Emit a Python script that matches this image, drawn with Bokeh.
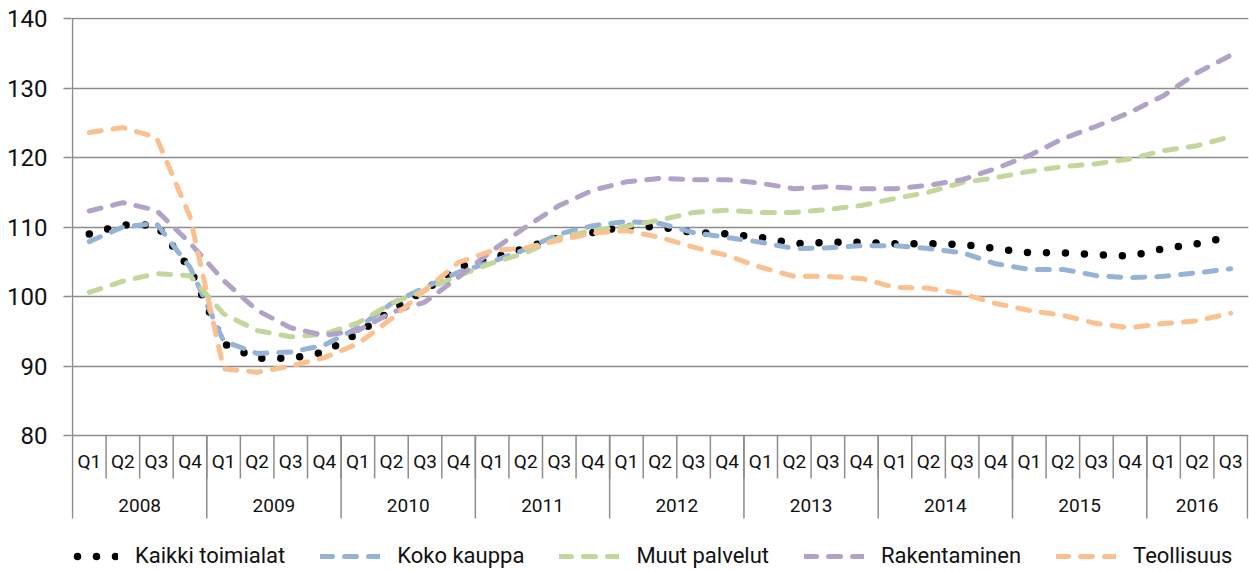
from bokeh.plotting import figure
from bokeh.models import Range1d, FixedTicker, Legend, LegendItem
from bokeh.embed import file_html
from bokeh.resources import INLINE
from bokeh.core.properties import value

# ---------------- data ----------------
years = ["2008", "2009", "2010", "2011", "2012", "2013", "2014", "2015", "2016"]
quarters = ["Q1", "Q2", "Q3", "Q4"]
quarters_last_year = 3  # 2016 has Q1..Q3

kaikki_toimialat = [109.0, 110.3, 110.3, 104.0,
                    93.2, 91.1, 91.1, 92.0,
                    94.7, 98.0, 100.9, 104.2,
                    105.5, 107.0, 108.5, 109.2,
                    110.1, 110.0, 109.2, 109.0,
                    108.5, 107.6, 107.8, 107.8,
                    107.6, 107.6, 107.5, 106.9,
                    106.3, 106.3, 106.0, 105.8,
                    106.9, 107.6, 108.6]
koko_kauppa = [107.9, 110.0, 110.5, 104.2,
               93.6, 91.8, 92.0, 93.0,
               95.5, 99.0, 101.3, 103.5,
               105.0, 106.8, 109.0, 110.2,
               110.8, 110.5, 109.2, 108.5,
               107.8, 106.9, 107.0, 107.3,
               107.3, 106.9, 106.3, 104.7,
               103.9, 103.9, 103.0, 102.7,
               102.9, 103.4, 104.0]
muut_palvelut = [100.6, 102.2, 103.3, 103.0,
                 97.5, 95.1, 94.2, 94.6,
                 96.2, 99.0, 100.9, 103.0,
                 104.8, 106.3, 108.5, 109.5,
                 110.1, 111.0, 112.1, 112.4,
                 112.1, 112.1, 112.5, 113.1,
                 114.1, 115.0, 116.4, 117.1,
                 118.0, 118.7, 119.1, 119.8,
                 121.0, 121.7, 123.0]
rakentaminen = [112.3, 113.5, 112.4, 107.7,
                102.3, 98.0, 95.5, 94.4,
                95.1, 97.7, 99.2, 102.8,
                106.6, 110.0, 113.1, 115.3,
                116.5, 117.0, 116.8, 116.8,
                116.3, 115.5, 115.8, 115.5,
                115.5, 116.0, 116.8, 118.4,
                120.3, 122.7, 124.5, 126.5,
                128.9, 132.2, 134.7]
teollisuus = [123.6, 124.3, 122.9, 111.5,
              89.6, 89.1, 90.0, 91.2,
              93.2, 96.8, 100.9, 104.9,
              106.6, 107.0, 108.1, 109.1,
              109.5, 108.5, 107.1, 105.9,
              104.2, 102.9, 102.9, 102.6,
              101.3, 101.2, 100.4, 99.0,
              98.0, 97.3, 96.1, 95.5,
              96.1, 96.5, 97.6]

series_names = ["Kaikki toimialat", "Koko kauppa", "Muut palvelut", "Rakentaminen", "Teollisuus"]
y_ticks = [80, 90, 100, 110, 120, 130, 140]

# ---------------- derived structure ----------------
quarter_labels = []
year_spans = []
idx = 0
for k, yr in enumerate(years):
    nq = len(quarters) if k < len(years) - 1 else quarters_last_year
    year_spans.append((yr, idx, idx + nq))
    for q in quarters[:nq]:
        quarter_labels.append(q)
        idx += 1
n = len(quarter_labels)
xc = [i + 0.5 for i in range(n)]

# ---------------- styling ----------------
GRAY = "#8c8c8c"
FONT = "Roboto"
PX_PER_UNIT = 6.95
W, H = 1249, 571
TOP = 17
y_end = 140 + 1.0 / PX_PER_UNIT
y_start = y_end - (H - TOP) / PX_PER_UNIT

q_sep_bottom = 80 - 43 / PX_PER_UNIT
y_sep_bottom = 80 - 83 / PX_PER_UNIT
q_label_y = 80 - 26 / PX_PER_UNIT
yr_label_y = 80 - 70 / PX_PER_UNIT

p = figure(width=W, height=H, output_backend="svg", toolbar_location=None,
           x_range=Range1d(-0.03, n + 0.03), y_range=Range1d(y_start, y_end),
           x_axis_location=None,
           min_border_left=71, min_border_right=1, min_border_top=TOP, min_border_bottom=0)
p.outline_line_color = None
p.background_fill_color = "white"
p.border_fill_color = "white"

ax = p.yaxis[0]
ax.ticker = FixedTicker(ticks=y_ticks)
ax.axis_line_color = None
ax.major_tick_line_color = GRAY
ax.major_tick_line_width = 1.5
ax.major_tick_out = 8
ax.major_tick_in = 0
ax.minor_tick_line_color = None
ax.major_label_text_font = FONT
ax.major_label_text_font_size = "24px"
ax.major_label_text_color = "#111111"
ax.major_label_standoff = 16

p.xgrid.visible = False
p.ygrid.ticker = FixedTicker(ticks=y_ticks)
p.ygrid.grid_line_color = GRAY
p.ygrid.grid_line_width = 1.5

# y-axis line / left separator
p.segment(x0=[0], y0=[y_sep_bottom], x1=[0], y1=[140], line_color=GRAY, line_width=1.5)

# quarter separators
qx = list(range(1, n))
p.segment(x0=qx, y0=[q_sep_bottom] * len(qx), x1=qx, y1=[80] * len(qx),
          line_color=GRAY, line_width=1.5)
# year separators
yx = [s[2] for s in year_spans]
p.segment(x0=yx, y0=[y_sep_bottom] * len(yx), x1=yx, y1=[80] * len(yx),
          line_color=GRAY, line_width=1.5)

p.text(x=xc, y=[q_label_y] * n, text=quarter_labels, text_font=value(FONT),
       text_font_size="19px", text_align="center", text_baseline="middle", text_color="#111111")
p.text(x=[(s[1] + s[2]) / 2 for s in year_spans], y=[yr_label_y] * len(year_spans),
       text=[s[0] for s in year_spans], text_font=value(FONT),
       text_font_size="19px", text_align="center", text_baseline="middle", text_color="#111111")

# ---------------- series ----------------
r_k = p.line(xc, kaikki_toimialat, line_color="black", line_width=7.5,
             line_dash="0 19", line_cap="round", line_join="round")
r_b = p.line(xc, koko_kauppa, line_color="#95B3D7", line_width=5,
             line_dash="12 12", line_cap="round", line_join="round")
r_g = p.line(xc, muut_palvelut, line_color="#C3D69B", line_width=5,
             line_dash="12 12", line_cap="round", line_join="round")
r_p = p.line(xc, rakentaminen, line_color="#B3A2C7", line_width=5,
             line_dash="12 12", line_cap="round", line_join="round")
r_o = p.line(xc, teollisuus, line_color="#FAC090", line_width=5,
             line_dash="12 12", line_cap="round", line_join="round")

items = [LegendItem(label=nm, renderers=[r]) for nm, r in
         zip(series_names, [r_k, r_b, r_g, r_p, r_o])]
legend = Legend(items=items, orientation="horizontal", location=(-13, 3),
                glyph_width=60, glyph_height=16, label_standoff=17, spacing=35,
                padding=0, margin=0, border_line_color=None, background_fill_alpha=0,
                label_text_font=FONT, label_text_font_size="22px", label_text_color="#111111")
p.add_layout(legend)

open("out.html", "w").write(file_html(p, INLINE))
